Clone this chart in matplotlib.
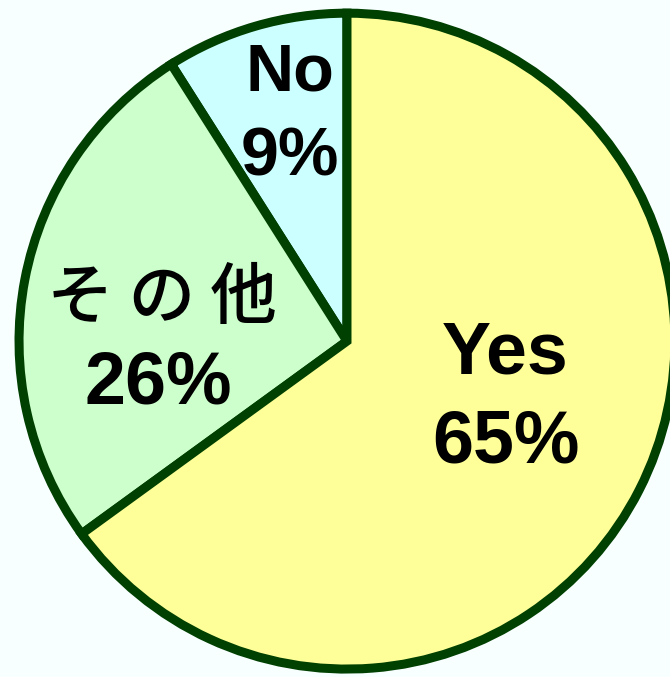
import matplotlib.pyplot as plt

# データ
labels = ["No", "その他", "Yes"]
values = [9, 26, 65]
pct_labels = ["9%", "26%", "65%"]
colors = ["#CCFFFF", "#CCFFCC", "#FFFF99"]

edge_color = "#004000"
bg_color = "#F8FFFF"

# ラベル位置 (データ座標, ベースライン)
name_pos = [(-0.174, 0.765), (-0.564, 0.070), (0.482, -0.098)]
pct_pos = [(-0.174, 0.506), (-0.576, -0.189), (0.485, -0.369)]
name_size = [48, 48, 53]
pct_size = [49, 53, 53]

fig = plt.figure(figsize=(6.70, 6.77), dpi=100)
fig.patch.set_facecolor(bg_color)
ax = fig.add_axes([0, 0, 1, 1])
ax.set_facecolor(bg_color)

ax.pie(
    values,
    colors=colors,
    startangle=90,
    counterclock=True,
    radius=1.0,
    wedgeprops=dict(edgecolor=edge_color, linewidth=6.5, joinstyle="miter"),
)

for i, lab in enumerate(labels):
    if lab == "その他":
        ax.text(name_pos[i][0], name_pos[i][1], "そ の 他",
                family=["Noto Sans CJK JP", "DejaVu Sans"], fontweight="medium",
                fontsize=name_size[i], ha="center", va="baseline", color="black")
    else:
        ax.text(name_pos[i][0], name_pos[i][1], lab,
                family="Liberation Sans", fontweight="bold",
                fontsize=name_size[i], ha="center", va="baseline", color="black")
    ax.text(pct_pos[i][0], pct_pos[i][1], pct_labels[i],
            family="Liberation Sans", fontweight="bold",
            fontsize=pct_size[i], ha="center", va="baseline", color="black")

ax.set_xlim(-1.058, 0.985)
ax.set_ylim(-1.024, 1.040)
ax.set_aspect("equal")
ax.axis("off")

plt.savefig("out.png", dpi=100, facecolor=bg_color)
